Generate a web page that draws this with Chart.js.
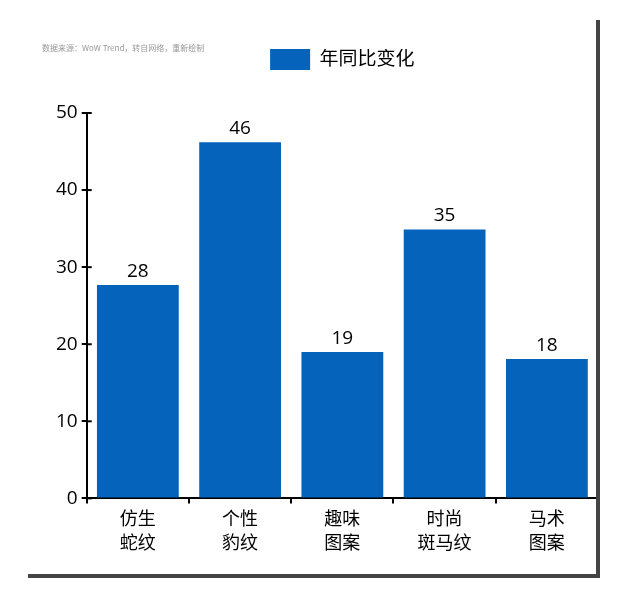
<!DOCTYPE html>
<html>
<head>
<meta charset="utf-8">
<script src="https://cdn.jsdelivr.net/npm/chart.js@4"></script>
<style>
    html, body { margin: 0; padding: 0; background: #fff; }
    #wrap { position: relative; width: 640px; height: 594px; }
    #source { position: absolute; left: 42px; top: 42px; font: 8px 'Noto Sans CJK SC', sans-serif; color: #999; }
    #frameRight { position: absolute; left: 596px; top: 20px; width: 4px; height: 558px; background: #444; }
    #frameBottom { position: absolute; left: 28px; top: 574px; width: 572px; height: 4px; background: #444; }
</style>
</head>
<body>
<div id="wrap">
    <canvas id="chart" width="640" height="594"></canvas>
    <div id="source">数据来源：WoW Trend，转自网络，重新绘制</div>
    <div id="frameRight"></div>
    <div id="frameBottom"></div>
</div>
<script>
// Data
const categories = [['仿生', '蛇纹'], ['个性', '豹纹'], ['趣味', '图案'], ['时尚', '斑马纹'], ['马术', '图案']];
const yoyValues = [27.7, 46.2, 19.0, 34.9, 18.1];
const seriesLabel = '年同比变化';

const barColor = '#0563BB';
const fontFamily = "'Open Sans', 'Noto Sans CJK SC', sans-serif";

// Extra space under the legend
const legendSpacing = {
    id: 'legendSpacing',
    beforeInit(chart) {
        const origFit = chart.legend.fit;
        chart.legend.fit = function () {
            origFit.bind(chart.legend)();
            this.height += 33;
        };
    }
};

// Value labels above bars
const valueLabels = {
    id: 'valueLabels',
    afterDatasetsDraw(chart) {
        const ctx = chart.ctx;
        const meta = chart.getDatasetMeta(0);
        ctx.save();
        ctx.fillStyle = '#000';
        ctx.font = '19px ' + fontFamily;
        ctx.textAlign = 'center';
        ctx.textBaseline = 'bottom';
        meta.data.forEach((bar, i) => {
            ctx.fillText(Math.round(yoyValues[i]), bar.x, bar.y - 4);
        });
        ctx.restore();
    }
};

// Y ticks crossing the axis line
const crossTicks = {
    id: 'crossTicks',
    afterDraw(chart) {
        const ctx = chart.ctx;
        const y = chart.scales.y;
        ctx.save();
        ctx.strokeStyle = '#000';
        ctx.lineWidth = 2;
        y.ticks.forEach((t, i) => {
            const py = y.getPixelForTick(i);
            ctx.beginPath();
            ctx.moveTo(y.right, py);
            ctx.lineTo(y.right + 5, py);
            ctx.stroke();
        });
        ctx.restore();
    }
};

new Chart(document.getElementById('chart'), {
    type: 'bar',
    data: {
        labels: categories,
        datasets: [{
            label: seriesLabel,
            data: yoyValues,
            backgroundColor: barColor,
            barPercentage: 0.8,
            categoryPercentage: 1.0
        }]
    },
    options: {
        responsive: false,
        animation: false,
        layout: {
            padding: { left: 52, right: 42, top: 49, bottom: 34 }
        },
        plugins: {
            legend: {
                position: 'top',
                fullSize: false,
                labels: {
                    boxWidth: 40,
                    boxHeight: 21,
                    color: '#000',
                    padding: 0,
                    font: { size: 19, family: fontFamily }
                }
            },
            tooltip: { enabled: false }
        },
        scales: {
            y: {
                min: 0,
                max: 50,
                ticks: {
                    stepSize: 10,
                    color: '#000',
                    padding: 4,
                    font: { size: 19, family: fontFamily }
                },
                grid: {
                    drawOnChartArea: false,
                    color: '#000',
                    lineWidth: 2,
                    tickLength: 5
                },
                border: { color: '#000', width: 2 }
            },
            x: {
                ticks: {
                    color: '#000',
                    padding: 4,
                    font: { size: 18, family: fontFamily, lineHeight: 1.35 }
                },
                grid: {
                    offset: true,
                    drawOnChartArea: false,
                    color: '#000',
                    lineWidth: 2,
                    tickLength: 5
                },
                border: { color: '#000', width: 2 }
            }
        }
    },
    plugins: [legendSpacing, valueLabels, crossTicks]
});
</script>
</body>
</html>
